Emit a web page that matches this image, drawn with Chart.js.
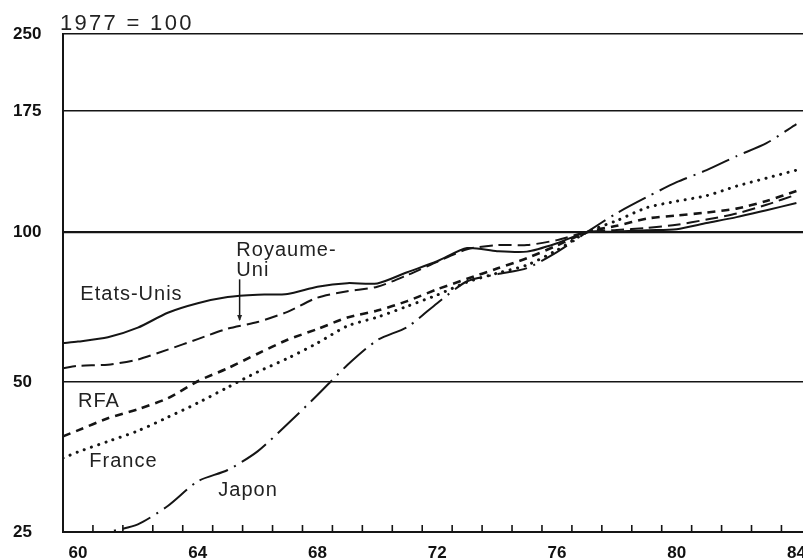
<!DOCTYPE html>
<html>
<head>
<meta charset="utf-8">
<script src="https://cdn.jsdelivr.net/npm/chart.js@4/dist/chart.umd.min.js"></script>
<style>
html,body{margin:0;padding:0;background:#fff;overflow:hidden}
#wrap{width:803px;height:560px;position:relative}
</style>
</head>
<body>
<div id="wrap"><canvas id="c" width="803" height="560"></canvas></div>
<script>
// ---- data (1977 = 100, log scale) ----
const years = [59.5, 60, 61, 62, 63, 64, 65, 66, 67, 68, 69, 70, 71, 72, 73, 74, 75, 76, 77, 78, 79, 80, 81, 82, 83, 84];
const etatsUnis = [59.9, 60.3, 61.5, 64.3, 68.9, 72.0, 74.1, 74.9, 75.1, 77.7, 79.0, 78.9, 83.1, 87.4, 92.9, 91.6, 91.4, 95.0, 100, 100.2, 100.9, 101.4, 104.3, 107.2, 110.7, 114.4];
const royaumeUni = [53.3, 53.9, 54.2, 55.5, 58.1, 61.0, 64.0, 66.0, 69.2, 73.9, 76.1, 77.7, 82.0, 87.2, 92.4, 94.2, 94.2, 96.4, 100, 101.0, 102.0, 103.5, 106.0, 109.0, 113.5, 119.0];
const rfa = [38.9, 40.0, 42.3, 44.1, 46.4, 50.2, 53.3, 57.0, 60.8, 63.9, 67.4, 69.6, 72.7, 76.8, 80.6, 84.5, 88.7, 94.0, 100, 103.0, 106.5, 108.0, 109.5, 111.5, 115.5, 121.0];
const france = [35.2, 36.2, 38.0, 39.9, 42.5, 45.4, 48.8, 52.4, 55.8, 59.9, 64.8, 67.5, 71.0, 74.8, 79.4, 82.7, 85.9, 92.0, 100, 105.5, 112.0, 115.4, 118.4, 123.7, 128.4, 133.2];
const japon = [null, 24.2, 25.0, 25.9, 28.2, 31.6, 33.3, 36.3, 41.2, 47.1, 54.1, 60.7, 64.5, 72.0, 79.7, 82.3, 84.7, 91.2, 100, 109.2, 117.6, 126.0, 133.2, 142.1, 150.9, 164.8];
const yTickValues = [25, 50, 100, 175, 250];
const xTickLabels = [60, 64, 68, 72, 76, 80, 84];
const titleText = '1977 = 100';

// ---- helpers ----
const INK = '#151515';
const toPts = arr => years.map((yr, i) => ({x: yr, y: arr[i]}));
const minorTicks = years.filter(Number.isInteger).map(v => v + 0.5);

const annotations = [
  {text: 'Etats-Unis', x: 60.08, y: 73.0},
  {text: 'Royaume-', x: 65.29, y: 89.5},
  {text: 'Uni', x: 65.29, y: 81.6},
  {text: 'RFA', x: 60.0, y: 44.5},
  {text: 'France', x: 60.38, y: 33.7},
  {text: 'Japon', x: 64.69, y: 29.5}
];
const arrow = {x: 65.4, from: 80.4, to: 66.6};

const decor = {
  id: 'decor',
  afterDraw(chart) {
    const {ctx, chartArea: a, scales: {x, y}} = chart;
    ctx.save();
    // minor tick marks, pointing inward
    ctx.strokeStyle = INK;
    ctx.lineWidth = 1.6;
    minorTicks.forEach(v => {
      const px = x.getPixelForValue(v);
      if (px < a.left || px > a.right) return;
      ctx.beginPath();
      ctx.moveTo(px, a.bottom);
      ctx.lineTo(px, a.bottom - 7);
      ctx.stroke();
    });
    // series labels
    ctx.fillStyle = '#222';
    ctx.font = '20px "Liberation Sans", Arial, Helvetica, sans-serif';
    ctx.letterSpacing = '1px';
    ctx.textAlign = 'left';
    ctx.textBaseline = 'alphabetic';
    annotations.forEach(l => ctx.fillText(l.text, x.getPixelForValue(l.x), y.getPixelForValue(l.y)));
    // arrow Royaume-Uni
    const ax = x.getPixelForValue(arrow.x);
    const y0 = y.getPixelForValue(arrow.from);
    const y1 = y.getPixelForValue(arrow.to);
    ctx.lineWidth = 1.5;
    ctx.beginPath();
    ctx.moveTo(ax, y0);
    ctx.lineTo(ax, y1);
    ctx.stroke();
    ctx.beginPath();
    ctx.moveTo(ax - 2.5, y1 - 5);
    ctx.lineTo(ax + 2.5, y1 - 5);
    ctx.lineTo(ax, y1 + 1);
    ctx.closePath();
    ctx.fill();
    // title
    ctx.font = '22px "Liberation Sans", Arial, Helvetica, sans-serif';
    ctx.letterSpacing = '2.3px';
    ctx.fillText(titleText, a.left - 3, a.top - 4);
    ctx.restore();
  }
};

const baseLine = {borderColor: INK, pointRadius: 0, fill: false, tension: 0.25, spanGaps: true};

new Chart(document.getElementById('c'), {
  type: 'line',
  data: {
    datasets: [
      Object.assign({label: 'Etats-Unis', data: toPts(etatsUnis), borderWidth: 2}, baseLine),
      Object.assign({label: 'Royaume-Uni', data: toPts(royaumeUni), borderWidth: 2, borderDash: [13, 6]}, baseLine),
      Object.assign({label: 'RFA', data: toPts(rfa), borderWidth: 2.6, borderDash: [8, 6]}, baseLine),
      Object.assign({label: 'France', data: toPts(france), borderWidth: 3, borderDash: [0.1, 7.5], borderCapStyle: 'round'}, baseLine),
      Object.assign({label: 'Japon', data: toPts(japon), borderWidth: 2, borderDash: [30, 7, 2, 7]}, baseLine)
    ]
  },
  options: {
    responsive: false,
    animation: false,
    events: [],
    layout: {autoPadding: false, padding: {left: 13, top: 34, right: 0, bottom: 0}},
    plugins: {legend: {display: false}, tooltip: {enabled: false}, title: {display: false}},
    scales: {
      x: {
        type: 'linear',
        min: 59.5,
        max: 84.22,
        afterBuildTicks: s => { s.ticks = xTickLabels.map(v => ({value: v})); },
        afterFit: s => { s.height = 28; s.paddingLeft = 0; s.paddingRight = 0; },
        grid: {display: false, drawTicks: false},
        border: {display: true, color: INK, width: 2},
        ticks: {
          autoSkip: false, maxRotation: 0, padding: 11, color: '#111',
          font: {family: '"Liberation Sans", Arial, sans-serif', size: 17, weight: 'bold'},
          callback: v => String(v)
        }
      },
      y: {
        type: 'logarithmic',
        min: 25,
        max: 250,
        afterBuildTicks: s => { s.ticks = yTickValues.map(v => ({value: v})); },
        afterFit: s => { s.width = 50; },
        grid: {
          display: true, drawTicks: false, color: INK,
          lineWidth: c => (c.tick && c.tick.value === 100 ? 2.2 : 1.6)
        },
        border: {display: true, color: INK, width: 2},
        ticks: {
          crossAlign: 'far', padding: 4, color: '#111',
          font: {family: '"Liberation Sans", Arial, sans-serif', size: 17, weight: 'bold'},
          callback: v => String(v)
        }
      }
    }
  },
  plugins: [decor]
});
</script>
</body>
</html>
